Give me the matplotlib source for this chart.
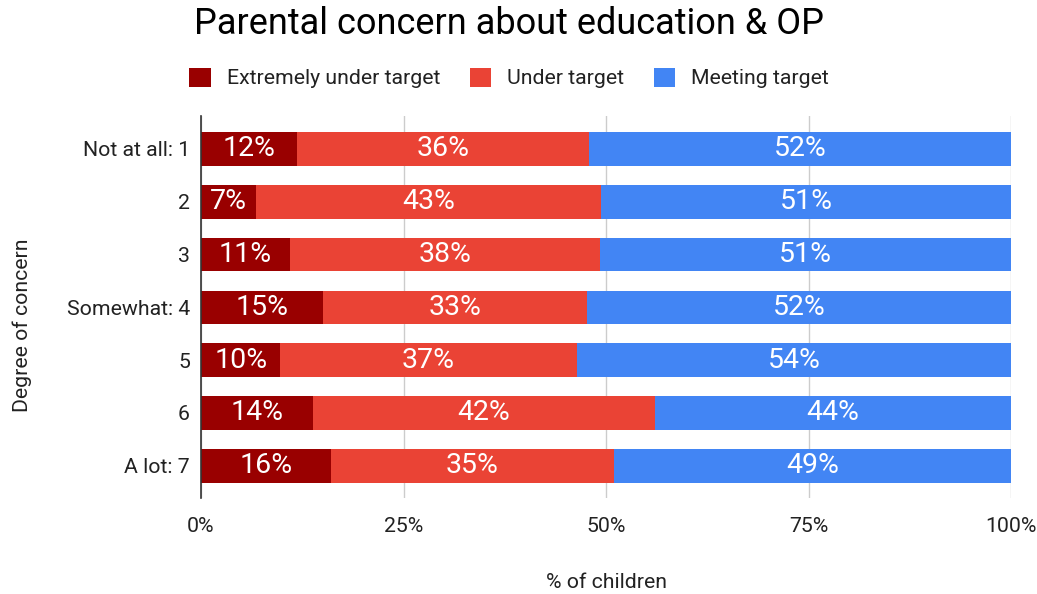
import matplotlib
matplotlib.use("Agg")
import matplotlib.pyplot as plt
import numpy as np

plt.rcParams["font.family"] = ["Roboto", "DejaVu Sans"]

# ── Data ──────────────────────────────────────────────────────
levels = ["Not at all: 1", "2", "3", "Somewhat: 4", "5", "6", "A lot: 7"]
extremely_under = [11.8, 6.8, 11.0, 15.1, 9.8, 13.8, 16.0]
under = [36.1, 42.6, 38.3, 32.6, 36.6, 42.2, 35.0]
meeting = [52.1, 50.6, 50.7, 52.3, 53.6, 44.0, 49.0]

series_names = ["Extremely under target", "Under target", "Meeting target"]
series_colors = ["#990000", "#ea4335", "#4285f4"]
x_ticks = [0, 25, 50, 75, 100]

# ── Layout ────────────────────────────────────────────────────
W, H = 1037, 594
fig = plt.figure(figsize=(W / 100, H / 100), dpi=100, facecolor="white")
ax = fig.add_axes([201 / W, 1 - 498 / H, 810 / W, (498 - 116) / H])

y = np.arange(len(levels))
bar_h = 0.64
left = np.zeros(len(levels))
containers = []
for vals, name, col in zip([extremely_under, under, meeting], series_names, series_colors):
    vals = np.asarray(vals)
    bc = ax.barh(y, vals, left=left, height=bar_h, color=col, label=name,
                 linewidth=0, zorder=3)
    containers.append(bc)
    for yi, l, v in zip(y, left, vals):
        ax.text(l + v / 2, yi, f"{v:.0f}%", ha="center", va="center",
                color="white", fontsize=20.5, zorder=4)
    left = left + vals

ax.set_xlim(0, 100)
ax.set_ylim(len(levels) - 1 + 0.61, -0.625)
ax.set_yticks(y)
ax.set_yticklabels(levels, fontsize=15.3, color="#222222")
ax.set_xticks(x_ticks)
ax.set_xticklabels([f"{t}%" for t in x_ticks], fontsize=15.3, color="#222222")
ax.tick_params(axis="both", length=0)
ax.tick_params(axis="x", pad=14)
ax.tick_params(axis="y", pad=8)

ax.grid(axis="x", color="#cccccc", linewidth=1.0, zorder=0)
for s in ["top", "right", "bottom"]:
    ax.spines[s].set_visible(False)
ax.spines["left"].set_color("#333333")
ax.spines["left"].set_linewidth(1.2)
ax.spines["left"].set_zorder(5)

# ── Titles ────────────────────────────────────────────────────
fig.text(509 / W, 1 - 24 / H, "Parental concern about education & OP",
         ha="center", va="center", fontsize=26, color="#000000")
fig.text(606 / W, 1 - 582 / H, "% of children", ha="center", va="center",
         fontsize=15.3, color="#222222")
fig.text(22 / W, 1 - 325 / H, "Degree of concern", ha="center", va="center",
         rotation=90, fontsize=15.3, color="#222222")

fig.legend(handles=containers, labels=series_names, loc="center",
           bbox_to_anchor=(509 / W, 1 - 78 / H), ncol=3, frameon=False,
           fontsize=15.3, handlelength=1.0, handleheight=1.0,
           handletextpad=0.75, columnspacing=1.4, labelcolor="#222222")

fig.savefig("out.png", dpi=100, facecolor="white")
